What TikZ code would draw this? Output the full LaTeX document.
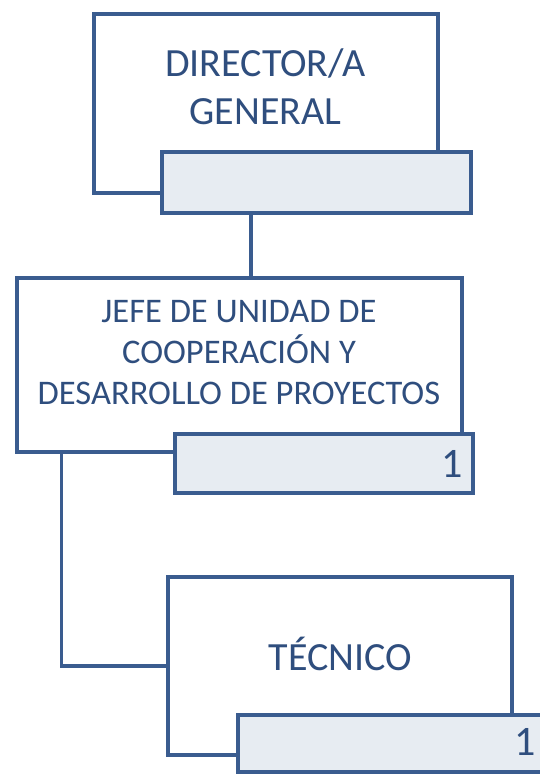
\documentclass[tikz,border=0pt]{standalone}
\usepackage{fontspec}
\setmainfont{Carlito}
\usetikzlibrary{positioning,calc}
\definecolor{bx}{HTML}{3A5C8F}
\definecolor{tx}{HTML}{2F4E7E}
\definecolor{tb}{HTML}{E7ECF2}

\begin{document}
\begin{tikzpicture}[x=1pt,y=1pt,
    box/.style={rectangle,draw=bx,line width=3.6pt,fill=white,inner sep=0pt},
    tab/.style={rectangle,draw=bx,line width=3.6pt,fill=tb,inner sep=0pt,minimum height=59pt},
    lbl/.style={text=tx,align=center},
    num/.style={text=tx,font=\fontsize{42}{48}\selectfont},
    conn/.style={draw=bx,line width=3.4pt},
]
\useasboundingbox (0,0) rectangle (540,774);
\clip (0,0) rectangle (540,774);

% Level 1: Director
\node[box,minimum width=344pt,minimum height=179pt] (dir) at (266,670.5) {};
\node[tab,minimum width=309pt,minimum height=61pt] (dirtab) at (316.5,591.5) {};
\node[lbl,font=\fontsize{40}{48}\selectfont] (dirtxt) at (265.5,687) {DIRECTOR/A\\GENERAL};

% Level 2: Jefe de unidad
\node[box,minimum width=445pt,minimum height=174pt] (jefe) at (239.5,409) {};
\node[tab,minimum width=298pt] (jefetab) at (324,310.5) {};
\node[lbl,font=\fontsize{34.5}{41}\selectfont] (jefetxt) at (239,421) {JEFE DE UNIDAD DE\\COOPERACIÓN Y\\DESARROLLO DE PROYECTOS};
\node[num,anchor=east] (jefenum) at ([xshift=-8pt]jefetab.east) {1};

% Level 3: Tecnico
\node[box,minimum width=344pt,minimum height=178pt] (tec) at (340,108) {};
\node[tab,minimum width=322pt,minimum height=57pt] (tectab) at (399,30.5) {};
\node[lbl,font=\fontsize{40}{48}\selectfont] (tectxt) at (340.5,120.5) {TÉCNICO};
\node[num] (tecnum) at (525,32) {1};

% Connectors
\draw[conn] ([xshift=-15pt]dir.south |- dirtab.south) -- ([xshift=-15pt]dir.south |- jefe.north);
\draw[conn] ([xshift=46pt]jefe.south west) |- (tec.west);
\end{tikzpicture}
\end{document}
